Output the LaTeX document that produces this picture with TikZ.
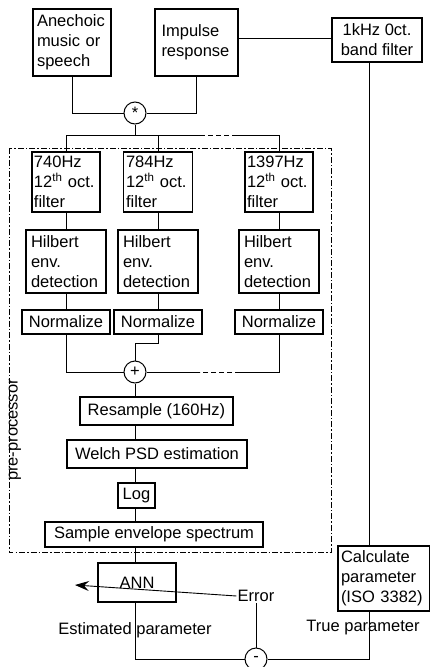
\documentclass[tikz,border=0pt]{standalone}
\usepackage{fontspec}
\setmainfont{Liberation Sans}
\usetikzlibrary{arrows.meta}

\begin{document}
\begin{tikzpicture}[x=1pt, y=-1pt,
    every node/.style={font=\fontsize{16.5}{20}\selectfont},
    blk/.style={draw, line width=1.1pt, inner xsep=2pt, inner ysep=0pt},
    op/.style={draw, circle, line width=1pt, minimum size=22pt, inner sep=0pt},
    wire/.style={line width=0.9pt},
    gapline/.style={line width=0.9pt, dash pattern=on 5pt off 3pt}]
\useasboundingbox (0,0) rectangle (430,667);

% sources
\node[blk, minimum width=78, minimum height=67, text width=70, align=left] (music) at (72,42.5) {Anechoic\\music or\\speech};
\node[blk, minimum width=83, minimum height=67, text width=70, align=left] (impulse) at (196.5,42.5) {Impulse\\response};
\node[blk, minimum width=90, minimum height=44, align=center] (octave) at (377,40) {1kHz 0ct.\\band filter};
\node[op] (conv) at (135,113) {*};

% pre-processor
\draw[line width=1pt, dash pattern=on 6pt off 2pt on 1.5pt off 2pt] (9,148) rectangle (331,552);
\node[rotate=90] (pre) at (15,430) {pre-processor};

\node[blk, line width=1.5pt, minimum width=68, minimum height=60, text width=64, align=left] (f1) at (66,182) {740Hz\\12\textsuperscript{th} oct.\\filter};
\node[blk, line width=1.5pt, minimum width=69, minimum height=60, text width=64, align=left] (f2) at (158,182) {784Hz\\12\textsuperscript{th} oct.\\filter};
\node[blk, line width=1.5pt, minimum width=68, minimum height=60, text width=64, align=left] (f3) at (279,182) {1397Hz\\12\textsuperscript{th} oct.\\filter};

\node[blk, minimum width=80, minimum height=63, text width=70, align=left] (h1) at (66,261.5) {Hilbert\\env.\\detection};
\node[blk, minimum width=80, minimum height=63, text width=70, align=left] (h2) at (158,261.5) {Hilbert\\env.\\detection};
\node[blk, minimum width=80, minimum height=63, text width=70, align=left] (h3) at (279,261.5) {Hilbert\\env.\\detection};

\node[blk, minimum width=88, minimum height=24] (n1) at (66,322) {Normalize};
\node[blk, minimum width=88, minimum height=24] (n2) at (158,322) {Normalize};
\node[blk, minimum width=88, minimum height=24] (n3) at (279,322) {Normalize};

\node[op] (sum) at (135,372) {+};
\node[blk, minimum width=153, minimum height=28] (resamp) at (156.5,411) {Resample (160Hz)};
\node[blk, minimum width=180, minimum height=28] (welch) at (157,454) {Welch PSD estimation};
\node[blk, minimum width=37, minimum height=25] (logb) at (136.5,495.5) {Log};
\node[blk, minimum width=218, minimum height=25] (spec) at (154,534.5) {Sample envelope spectrum};

% network and reference
\node[blk, minimum width=78, minimum height=39] (ann) at (137,582.5) {ANN};
\node[blk, inner xsep=1pt, minimum width=92, minimum height=65, text width=86, align=left] (calc) at (384,578.5) {Calculate\\parameter\\(ISO~3382)};
\node[op] (minus) at (256,659) {-};
\node[inner sep=1pt] (err) at (256,596) {Error};

\coordinate (split) at (135,135);
\coordinate (splitl) at (200,135);
\coordinate (splitr) at (235,135);
\coordinate (suml) at (200,372);
\coordinate (sumr) at (240,372);
\coordinate (tcol) at (369,0);
\coordinate (annin) at (75,585);

\draw[wire] (music.south) |- (conv.west);
\draw[wire] (impulse.south) |- (conv.east);
\draw[wire] (impulse.east |- 0,38) -- (octave.west |- 0,38);
\draw[wire] (conv.south) -- (split);
\draw[wire] (f1.north) |- (splitl);
\draw[wire] (split -| f2.north) -- (f2.north);
\draw[gapline] (splitl) -- (splitr);
\draw[wire] (splitr) -| (f3.north);

\draw[wire] (f1.south) -- (h1.north);
\draw[wire] (f2.south) -- (h2.north);
\draw[wire] (f3.south) -- (h3.north);
\draw[wire] (h1.south) -- (n1.north);
\draw[wire] (h2.south) -- (n2.north);
\draw[wire] (h3.south) -- (n3.north);

\draw[wire] (n1.south) |- (sum.west);
\draw[wire] (n2.south) -- ++(0,9) -| (sum.north);
\draw[wire] (n3.south) |- (sumr);
\draw[gapline] (sumr) -- (suml);
\draw[wire] (suml) -- (sum.east);

\draw[wire] (sum.south) -- (resamp.north -| sum);
\draw[wire] (resamp.south -| sum) -- (welch.north -| sum);
\draw[wire] (welch.south -| sum) -- (logb.north -| sum);
\draw[wire] (logb.south -| sum) -- (spec.north -| sum);
\draw[wire] (spec.south -| sum) -- (ann.north -| sum);
\draw[wire] (ann.south -| sum) |- (minus.west);

\draw[wire] (octave.south -| tcol) -- (calc.north -| tcol);
\draw[wire] (calc.south -| tcol) |- (minus.east);
\draw[wire] (minus.north) -- (err.south);
\draw[wire, -{Stealth[length=14pt, width=10pt, inset=5pt]}] (err.west) -- (annin);

\node (est) at (135,630) {Estimated parameter};
\node (truep) at (363,628) {True parameter};
\end{tikzpicture}
\end{document}
